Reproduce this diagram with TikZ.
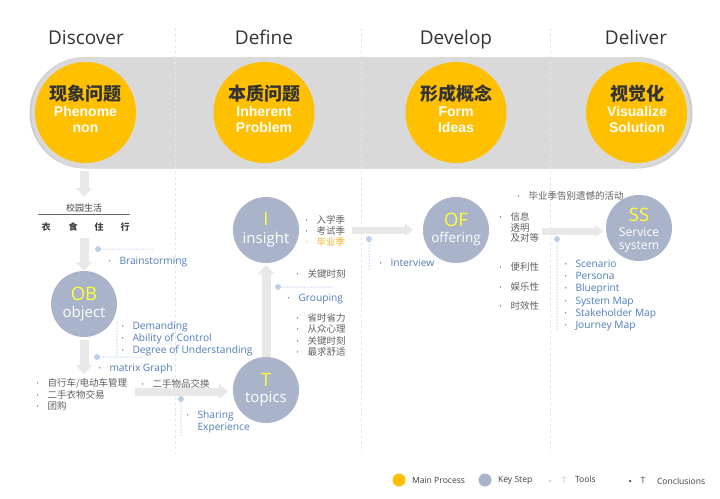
\documentclass[tikz,border=0pt]{standalone}
\usepackage{fontspec}
\setmainfont{Open Sans}
\newfontfamily\cjk{Noto Sans CJK SC}
\newfontfamily\arialb{Liberation Sans}
\usetikzlibrary{arrows.meta}
\definecolor{mainY}{HTML}{FFC000}
\definecolor{keyG}{HTML}{A9B3CA}
\definecolor{bandG}{HTML}{D9D9D9}
\definecolor{bandS}{HTML}{CDCDCD}
\definecolor{toolB}{HTML}{4F7DBA}
\definecolor{concG}{HTML}{606060}
\definecolor{arrowG}{HTML}{E8E8E8}
\definecolor{dotB}{HTML}{BCD0EA}
\definecolor{hiY}{HTML}{FFFF33}
\definecolor{titleC}{HTML}{333333}
\definecolor{sepG}{HTML}{E6E6E6}
\definecolor{hiO}{HTML}{F2B01E}
\definecolor{legC}{HTML}{404040}
\newcommand{\bl}{\makebox[11pt][l]{\rmfamily\raisebox{0.2ex}{\scalebox{0.6}{\textbullet}}}}
\newcommand{\nbl}{\hspace*{11pt}}
\begin{document}
\begin{tikzpicture}[x=1pt,y=-1pt,
  every node/.style={inner sep=0pt, outer sep=0pt},
  main/.style={circle, fill=mainY, minimum size=101pt},
  key/.style={circle, fill=keyG, minimum size=66pt},
  title/.style={font=\fontsize{19}{22}\selectfont, text=titleC, anchor=base},
  cnhead/.style={font=\cjk\bfseries\fontsize{18}{20}\selectfont, text=titleC},
  enhead/.style={font=\arialb\bfseries\fontsize{14}{16.7}\selectfont, text=white, align=center, anchor=base},
  keyab/.style={font=\fontsize{18.5}{20}\selectfont, text=hiY, anchor=base},
  keyname/.style={font=\fontsize{15}{17}\selectfont, text=white, anchor=base},
  tool/.style={font=\fontsize{10.2}{12.2}\selectfont, text=toolB, anchor=west, align=left},
  conc/.style={font=\cjk\fontsize{9.5}{11.3}\selectfont, text=concG, anchor=west, align=left},
  bigarrow/.style={draw=arrowG, line width=9pt, -{Triangle[width=16pt,length=9pt]}},
  midarrow/.style={draw=arrowG, line width=7pt, -{Triangle[width=12pt,length=8pt]}},
  dotline/.style={draw=dotB, line width=1.5pt, line cap=round, dash pattern=on 0pt off 3pt},
  dotend/.style={circle, fill=dotB, minimum size=6pt},
  sep/.style={draw=sepG, line width=0.8pt, dash pattern=on 3pt off 2.5pt},
  legend/.style={font=\fontsize{8.6}{10}\selectfont, text=legC, anchor=west},
  gridch/.style={font=\cjk\bfseries\fontsize{9}{10}\selectfont, text=legC}
]
\useasboundingbox (0,0) rectangle (720,498);
\fill[white] (0,0) rectangle (720,498);

% band
\fill[bandS, rounded corners=55.5pt] (29.5,57) rectangle (692.5,168.5);
\fill[bandG, rounded corners=55pt] (31.5,57) rectangle (690.5,168);

% separators
\coordinate (s1a) at (175,28); \coordinate (s1b) at (175,452);
\coordinate (s2a) at (361,28); \coordinate (s2b) at (361,452);
\coordinate (s3a) at (550,28); \coordinate (s3b) at (550,452);
\draw[sep] (s1a) -- (s1b);
\draw[sep] (s2a) -- (s2b);
\draw[sep] (s3a) -- (s3b);

% titles
\node[title] (t1) at (86,44.5) {Discover};
\node[title] (t2) at (264,44.5) {Define};
\node[title] (t3) at (456,44.5) {Develop};
\node[title] (t4) at (636,44.5) {Deliver};

% main circles
\node[main] (p1) at (85.5,112.5) {};
\node[main] (p2) at (264,112.5) {};
\node[main] (p3) at (456,112.5) {};
\node[main] (p4) at (636.5,112.5) {};
\node[cnhead] (p1cn) at (85.5,93.5) {现象问题};
\node[enhead] (p1en) at (85.5,132.7) {Phenome\\non};
\node[cnhead] (p2cn) at (264,93.5) {本质问题};
\node[enhead] (p2en) at (264,132.7) {Inherent\\Problem};
\node[cnhead] (p3cn) at (456,93.5) {形成概念};
\node[enhead] (p3en) at (456,132.7) {Form\\Ideas};
\node[cnhead] (p4cn) at (637,93.5) {视觉化};
\node[enhead] (p4en) at (637,132.7) {Visualize\\Solution};

% Discover column
\coordinate (a1s) at (84,171); \coordinate (a1e) at (84,197);
\draw[bigarrow] (a1s) -- (a1e);
\node[font=\cjk\fontsize{9}{10}\selectfont, text=legC] (camp) at (84,208) {校园生活};
\coordinate (ul1) at (38,214.5); \coordinate (ul2) at (130,214.5);
\draw[draw=black!60, line width=1.3pt] (ul1) -- (ul2);
\node[gridch] (c1) at (46,227) {衣};
\node[gridch] (c2) at (73,227) {食};
\node[gridch] (c3) at (99,227) {住};
\node[gridch] (c4) at (125,227) {行};

\node[key] (ob) at (84,304) {};
\node[keyab] (obab) at (84,300) {OB};
\node[keyname] (obnm) at (84,317) {object};
\coordinate (a2s) at (84,238);
\draw[bigarrow] (a2s) -- (ob.north);

\node[dotend] (d1) at (98,249) {};
\coordinate (d1e) at (152,249);
\draw[dotline] (d1) -- (d1e);
\node[tool] (brain) at (108.5,262) {\bl Brainstorming};

\coordinate (d2v1) at (117,322); \coordinate (d2v2) at (117,357);
\draw[dotline] (d2v1) -- (d2v2);
\node[dotend] (d2) at (97,357) {};
\coordinate (d2e) at (148,357);
\draw[dotline] (d2) -- (d2e);
\node[tool] (dem) at (121.5,339) {\bl Demanding\\\bl Ability of Control\\\bl Degree of Understanding};

\coordinate (a3s) at (84,340); \coordinate (a3e) at (84,374);
\draw[bigarrow] (a3s) -- (a3e);
\node[tool] (matrix) at (98.5,369) {\bl matrix Graph};

\node[conc] (bike) at (36.5,394.5) {\bl 自行车/电动车管理\\\bl 二手衣物交易\\\bl 团购};

\node[key] (tp) at (266,390) {};
\node[keyab] (tpab) at (266,386) {T};
\node[keyname] (tpnm) at (266,402.5) {topics};
\coordinate (a4s) at (135,391.5); \coordinate (a4e) at (228,391.5);
\draw[bigarrow, line width=8pt, -{Triangle[width=15pt,length=9pt]}] (a4s) -- (a4e);
\node[conc] (swap) at (141.5,384) {\bl 二手物品交换};

\node[dotend] (d3) at (181,399) {};
\coordinate (d3e) at (181,437);
\draw[dotline] (d3) -- (d3e);
\node[tool] (share) at (186.5,422) {\bl Sharing\\\nbl Experience};

% Define column
\node[key] (in) at (266,230) {};
\node[keyab] (inab) at (266,225.5) {I};
\node[keyname] (innm) at (266,243) {insight};
\coordinate (a5e) at (266,265);
\draw[bigarrow] (tp.north) -- (a5e);

\node[conc, font=\cjk\fontsize{9.5}{11}\selectfont] (season) at (305.5,231) {\bl 入学季\\\bl 考试季\\{\color{hiO}\bl 毕业季}};
\node[conc] (key1) at (296.5,274) {\bl 关键时刻};
\node[dotend] (d4) at (278,287) {};
\coordinate (d4e) at (333,287);
\draw[dotline] (d4) -- (d4e);
\node[tool] (group) at (287.5,299) {\bl Grouping};
\node[conc] (save) at (296.5,335) {\bl 省时省力\\\bl 从众心理\\\bl 关键时刻\\\bl 最求舒适};

\coordinate (a6s) at (352,230); \coordinate (a6e) at (413,230);
\draw[midarrow] (a6s) -- (a6e);
\node[dotend] (d5) at (369,239) {};
\coordinate (d5e) at (369,270);
\draw[dotline] (d5) -- (d5e);
\node[tool] (inter) at (379.5,263) {\bl Interview};

% Develop column
\node[key] (of) at (456,230) {};
\node[keyab] (ofab) at (456,226) {OF};
\node[keyname, font=\fontsize{13.5}{15}\selectfont] (ofnm) at (456,242) {offering};

\node[conc] (grad) at (517.5,196) {\bl 毕业季告别遗憾的活动};
\node[conc, font=\cjk\fontsize{9.5}{10.7}\selectfont] (info) at (499.5,227.5) {\bl 信息\\\nbl 透明\\\nbl 及对等};
\node[conc, font=\cjk\fontsize{9.5}{19.5}\selectfont] (conv) at (499.5,286.5) {\bl 便利性\\\bl 娱乐性\\\bl 时效性};

\coordinate (a7s) at (542,231); \coordinate (a7e) at (603,231);
\draw[midarrow] (a7s) -- (a7e);
\node[dotend] (d6) at (557,239) {};
\coordinate (d6e) at (557,330);
\draw[dotline] (d6) -- (d6e);

% Deliver column
\node[key] (ss) at (639,228) {};
\node[keyab] (ssab) at (639,221.5) {SS};
\node[keyname, font=\fontsize{12.2}{14}\selectfont] (ssn1) at (639,236) {Service};
\node[keyname, font=\fontsize{12.2}{14}\selectfont] (ssn2) at (639,249.3) {system};
\node[tool] (tools) at (564.5,295.5) {\bl Scenario\\\bl Persona\\\bl Blueprint\\\bl System Map\\\bl Stakeholder Map\\\bl Journey Map};

% legend
\node[circle, fill=mainY, minimum size=13pt] (lg1) at (399,480) {};
\node[legend] (lg1t) at (412,480) {Main Process};
\node[circle, fill=keyG, minimum size=13pt] (lg2) at (485,480) {};
\node[legend] (lg2t) at (498,480) {Key Step};
\node[circle, fill=dotB, minimum size=2.5pt] (lg3) at (550,481) {};
\node[legend, text=dotB!80!black!60!white, anchor=center] (lg3t) at (564,480) {T};
\node[legend] (lg3l) at (575,479.5) {Tools};
\node[circle, fill=legC, minimum size=2.5pt] (lg4) at (630,481) {};
\node[legend, anchor=center] (lg4t) at (643,480) {T};
\node[legend] (lg4l) at (657,481) {Conclusions};
\end{tikzpicture}
\end{document}
